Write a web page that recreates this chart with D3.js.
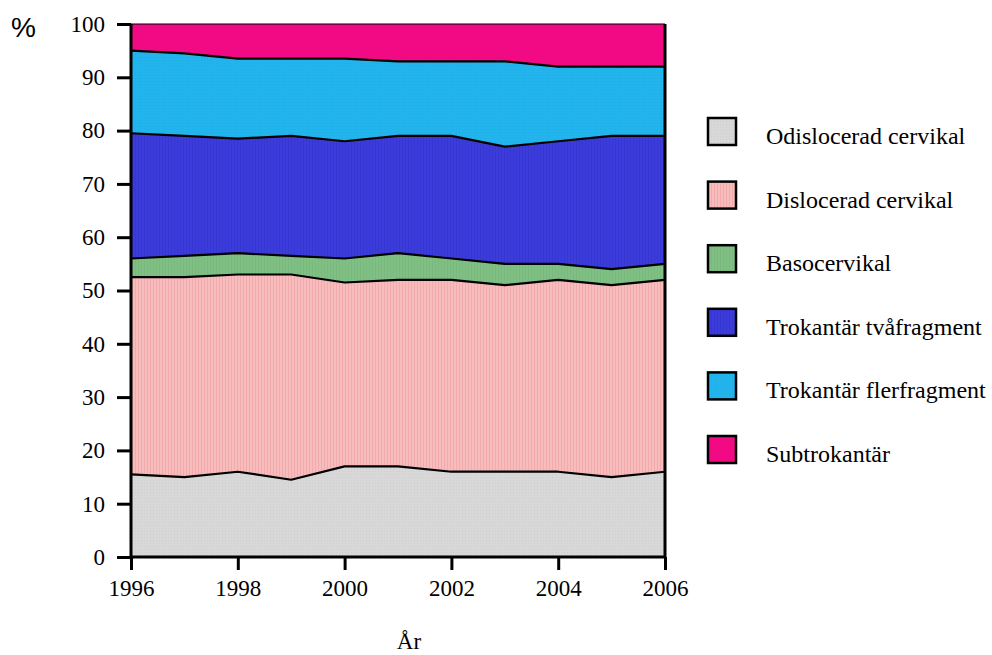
<!DOCTYPE html>
<html>
<meta charset="utf-8">
<head>
<style>
  body { margin: 0; background: white; }
  text { font-family: "Liberation Serif", "Times New Roman", serif; }
  .legend text { font-size: 24px; }
</style>
</head>
<body>
<div id="viz"></div>
<script src="https://cdn.jsdelivr.net/npm/d3@7"></script>
<script>
const years = [1996, 1997, 1998, 1999, 2000, 2001, 2002, 2003, 2004, 2005, 2006];
const categories = ['Odislocerad cervikal', 'Dislocerad cervikal', 'Basocervikal',
    'Trokantär tvåfragment', 'Trokantär flerfragment', 'Subtrokantär'];
const odislocerad = [15.5, 15, 16, 14.5, 17, 17, 16, 16, 16, 15, 16];
const dislocerad = [37, 37.5, 37, 38.5, 34.5, 35, 36, 35, 36, 36, 36];
const basocervikal = [3.5, 4, 4, 3.5, 4.5, 5, 4, 4, 3, 3, 3];
const tvafragment = [23.5, 22.5, 21.5, 22.5, 22, 22, 23, 22, 23, 25, 24];
const flerfragment = [15.5, 15.5, 15, 14.5, 15.5, 14, 14, 16, 14, 13, 13];
const subtrokantar = [5, 5.5, 6.5, 6.5, 6.5, 7, 7, 7, 8, 8, 8];
const yTicks = [0, 10, 20, 30, 40, 50, 60, 70, 80, 90, 100];
const xTicks = [1996, 1998, 2000, 2002, 2004, 2006];

const colours = ['#d8d8d8', '#f7bcbc', '#80c084', '#3c3cdc', '#22b4ec', '#f20a84'];
const stripe = ['#c8c8c8', '#ee9ea4', '#74b478', '#3232c8', '#1ea6dc', '#f20a84'];

const width = 992, height = 655;
const margin = { left: 131, right: 327, top: 24, bottom: 98 };

const series = [odislocerad, dislocerad, basocervikal, tvafragment, flerfragment, subtrokantar];
const table = years.map((y, i) => {
    let row = { year: y };
    categories.forEach((c, j) => row[c] = series[j][i]);
    return row;
});

const stacked = d3.stack().keys(categories)(table);

const x = d3.scaleLinear().domain([1996, 2006]).range([margin.left, width - margin.right]);
const y = d3.scaleLinear().domain([0, 100]).range([height - margin.bottom, margin.top]);

const svg = d3.select("#viz").append("svg")
    .attr("width", width)
    .attr("height", height);

// fine textures like the original print
const defs = svg.append("defs");
colours.forEach((c, i) => {
    let p = defs.append("pattern")
        .attr("id", "pat" + i)
        .attr("patternUnits", "userSpaceOnUse")
        .attr("width", 3).attr("height", 3);
    p.append("rect").attr("width", 3).attr("height", 3).attr("fill", c);
    if (i == 0 || i == 4) {
        p.append("rect").attr("x", 0).attr("y", 0).attr("width", 1).attr("height", 1)
            .attr("fill", stripe[i]).attr("opacity", 0.6);
    } else if (i != 5) {
        p.append("rect").attr("x", 0).attr("y", 0).attr("width", 1).attr("height", 3)
            .attr("fill", stripe[i]).attr("opacity", 0.6);
    }
});

const area = d3.area()
    .x(d => x(d.data.year))
    .y0(d => y(d[0]))
    .y1(d => y(d[1]));

svg.append("g").selectAll("path")
    .data(stacked)
    .enter()
    .append("path")
    .attr("d", area)
    .attr("fill", (d, i) => "url(#pat" + i + ")")
    .attr("stroke", "none");

const line = d3.line()
    .x(d => x(d.data.year))
    .y(d => y(d[1]));

svg.append("g").selectAll("path")
    .data(stacked.slice(0, 5))
    .enter()
    .append("path")
    .attr("d", line)
    .attr("fill", "none")
    .attr("stroke", "black")
    .attr("stroke-width", 2.2)
    .attr("stroke-linejoin", "round");

// frame: thin top, thick right
svg.append("line")
    .attr("x1", x(1996)).attr("x2", x(2006))
    .attr("y1", y(100)).attr("y2", y(100))
    .attr("stroke", "black").attr("stroke-width", 1.2);
svg.append("line")
    .attr("x1", x(2006)).attr("x2", x(2006))
    .attr("y1", y(100)).attr("y2", y(0))
    .attr("stroke", "black").attr("stroke-width", 3);

const yAxis = svg.append("g")
    .attr("transform", "translate(" + x(1996) + ",0)")
    .call(d3.axisLeft(y).tickValues(yTicks).tickSize(14).tickPadding(12));
const xAxis = svg.append("g")
    .attr("transform", "translate(0," + y(0) + ")")
    .call(d3.axisBottom(x).tickValues(xTicks).tickFormat(d3.format("d")).tickSize(13).tickPadding(10));

[yAxis, xAxis].forEach(a => {
    a.select(".domain").attr("stroke-width", 3).attr("stroke", "black");
    a.selectAll(".tick line").attr("stroke-width", 3).attr("stroke", "black");
    a.selectAll(".tick text")
        .attr("fill", "black")
        .style("font-family", "'Liberation Serif', 'Times New Roman', serif")
        .style("font-size", "23px");
});
yAxis.select(".domain").attr("d", "M0," + y(0) + "V" + y(100));
xAxis.select(".domain").attr("d", "M" + x(1996) + ",0H" + x(2006));

svg.append("text")
    .attr("x", 11).attr("y", 37)
    .style("font-family", "'Liberation Sans', Arial, sans-serif")
    .style("font-size", "28px")
    .text("%");

svg.append("text")
    .attr("x", 409).attr("y", 649)
    .attr("text-anchor", "middle")
    .style("font-size", "23px")
    .text("År");

const legend = svg.append("g").attr("class", "legend")
    .selectAll("g")
    .data(categories)
    .enter()
    .append("g")
    .attr("transform", (d, i) => "translate(708," + (118 + i * 63.6) + ")");

legend.append("rect")
    .attr("width", 28).attr("height", 27)
    .attr("fill", (d, i) => "url(#pat" + i + ")")
    .attr("stroke", "black")
    .attr("stroke-width", 2.5);

legend.append("text")
    .attr("x", 58).attr("y", 26)
    .text(d => d);
</script>
</body>
</html>
